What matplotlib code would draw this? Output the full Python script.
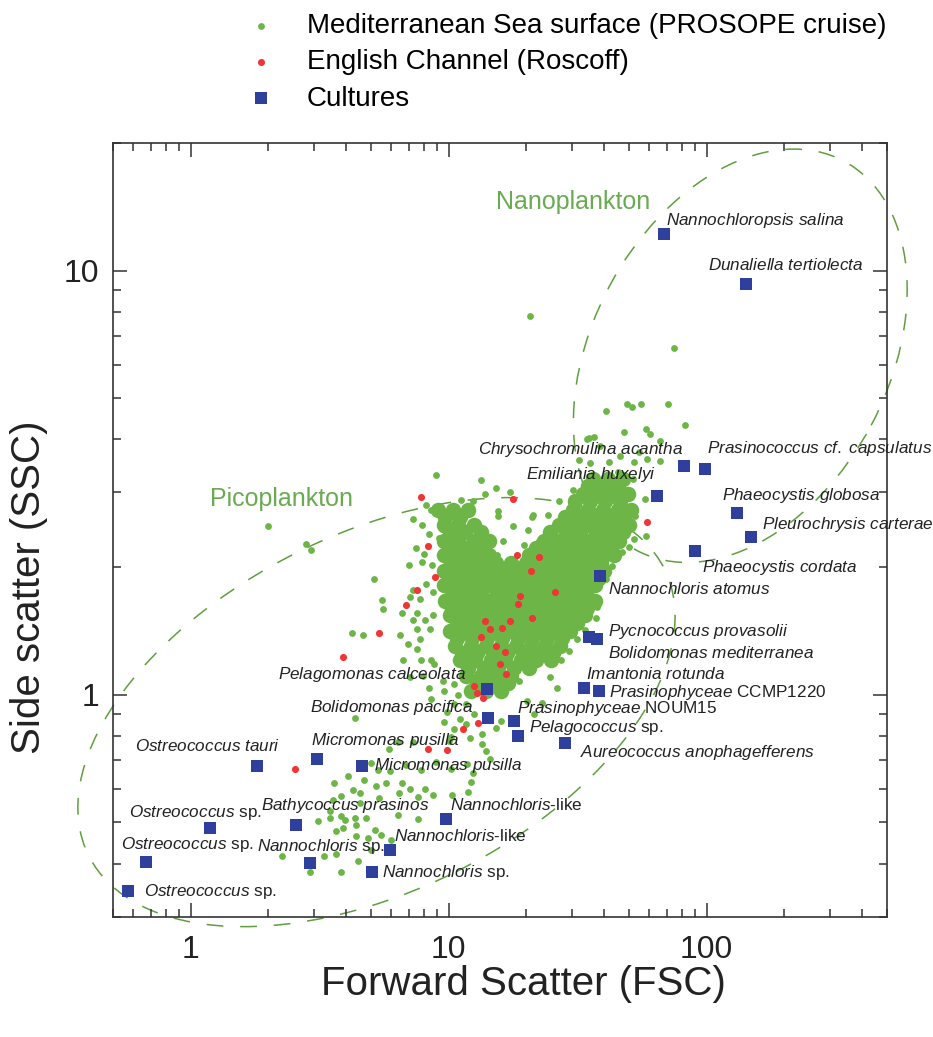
import matplotlib
matplotlib.use("Agg")
import matplotlib.pyplot as plt
from matplotlib.patches import Ellipse
from matplotlib.ticker import LogLocator, NullFormatter

plt.rcParams['font.family'] = 'Liberation Sans'
plt.rcParams['mathtext.fontset'] = 'custom'
plt.rcParams['mathtext.rm'] = 'Liberation Sans'
plt.rcParams['mathtext.it'] = 'Liberation Sans:italic'

# cultures (blue squares)
culture_names = [
    r"$\mathit{Nannochloropsis\ salina}$",
    r"$\mathit{Dunaliella\ tertiolecta}$",
    r"$\mathit{Chrysochromulina\ acantha}$",
    r"$\mathit{Prasinococcus\ cf.\ capsulatus}$",
    r"$\mathit{Emiliania\ huxelyi}$",
    r"$\mathit{Phaeocystis\ globosa}$",
    r"$\mathit{Pleurochrysis\ carterae}$",
    r"$\mathit{Phaeocystis\ cordata}$",
    r"$\mathit{Nannochloris\ atomus}$",
    r"$\mathit{Pycnococcus\ provasolii}$",
    r"$\mathit{Bolidomonas\ mediterranea}$",
    r"$\mathit{Imantonia\ rotunda}$",
    r"$\mathit{Prasinophyceae}$ CCMP1220",
    r"$\mathit{Pelagomonas\ calceolata}$",
    r"$\mathit{Bolidomonas\ pacifica}$",
    r"$\mathit{Prasinophyceae}$ NOUM15",
    r"$\mathit{Pelagococcus}$ sp.",
    r"$\mathit{Aureococcus\ anophagefferens}$",
    r"$\mathit{Ostreococcus\ tauri}$",
    r"$\mathit{Micromonas\ pusilla}$",
    r"$\mathit{Micromonas\ pusilla}$",
    r"$\mathit{Ostreococcus}$ sp.",
    r"$\mathit{Bathycoccus\ prasinos}$",
    r"$\mathit{Ostreococcus}$ sp.",
    r"$\mathit{Nannochloris}$ sp.",
    r"$\mathit{Ostreococcus}$ sp.",
    r"$\mathit{Nannochloris}$-like",
    r"$\mathit{Nannochloris}$-like",
    r"$\mathit{Nannochloris}$ sp.",
]
culture_fsc = [68.1, 142.6, 81.4, 98.2, 64.2, 131.6, 148.3, 90.1, 38.7, 35.1,
               37.7, 33.6, 38.4, 14.1, 14.2, 17.9, 18.6, 28.3, 1.80, 3.10,
               4.63, 1.19, 2.57, 0.671, 2.90, 0.57, 9.80, 5.92, 5.06]
culture_ssc = [12.2, 9.28, 3.46, 3.41, 2.95, 2.69, 2.35, 2.18, 1.91, 1.37,
               1.35, 1.04, 1.02, 1.03, 0.881, 0.868, 0.80, 0.769, 0.681, 0.707,
               0.679, 0.485, 0.493, 0.403, 0.402, 0.344, 0.510, 0.431, 0.382]

# English Channel (Roscoff)
roscoff_fsc = [7.81, 17.8, 58.5, 8.31, 18.4, 22.4, 20.9, 8.88, 7.51, 25.8, 18.9,
               6.82, 18.5, 13.8, 17.3, 21.1, 14.5, 16.1, 5.38, 13.3, 15.2, 16.6,
               3.89, 15.8, 16.7, 12.5, 12.9, 13.6, 13.0, 11.4, 8.34, 9.88, 2.53]
roscoff_ssc = [2.93, 2.90, 2.56, 2.24, 2.13, 2.11, 1.96, 1.90, 1.77, 1.75, 1.71,
               1.63, 1.64, 1.49, 1.49, 1.52, 1.43, 1.44, 1.40, 1.37, 1.30, 1.26,
               1.23, 1.18, 1.12, 1.05, 1.01, 0.98, 0.856, 0.832, 0.745, 0.742, 0.669]

# Mediterranean (PROSOPE), scattered cells
med_fsc = [20.7, 74.5, 40.9, 48.9, 51.2, 55.9, 71.1, 82.3, 47.8, 58.4, 60.3, 66.0,
           36.7, 35.0, 58.7, 34.5, 38.6, 32.1, 35.4, 52.5, 66.2, 54.8, 46.3, 42.0,
           51.7, 45.2, 40.0, 36.9, 57.8, 52.7, 26.8, 30.3, 24.3,
           13.3, 15.2, 17.3, 11.2, 12.4, 15.5, 21.0, 10.35, 13.8, 8.97, 15.6, 17.8,
           20.3, 16.3, 19.6, 22.3, 15.4, 17.5, 21.3,
           58.1, 52.2, 47.0, 49.9, 43.1, 40.9, 37.6, 37.3, 40.8, 33.8,
           8.17, 8.56, 7.28, 7.88, 9.39, 8.36, 9.14, 7.47, 8.02, 9.58, 7.04, 7.88,
           8.62, 5.15, 8.19, 7.25, 8.66, 7.06, 5.54, 5.55, 7.72, 6.62, 7.53, 8.70,
           7.28, 8.10, 7.54, 8.48, 6.50, 4.64, 6.95, 7.77, 7.56, 7.80, 8.77,
           6.67, 8.51, 7.10, 7.94, 8.41, 9.52, 10.46, 9.62, 10.83, 8.57, 10.47, 11.7,
           9.81, 12.5, 11.1, 9.58, 11.7, 10.5, 10.2, 13.5, 12.1, 15.3, 15.9, 13.5,
           10.0, 7.26, 6.34, 5.89, 4.98, 5.32, 5.92, 6.81, 7.84, 8.96, 10.2, 11.8,
           12.4, 14.0, 14.5, 3.61, 4.09, 4.68, 5.22, 5.74, 6.58, 7.09, 8.08, 6.41,
           7.60, 8.70, 10.3, 3.84, 4.53, 5.37, 12.2, 11.9, 3.48,
           20.2, 23.1, 21.5, 18.8, 24.8, 27.3, 29.2, 31.4, 26.4,
           3.12, 3.48, 3.81, 3.98, 4.35, 4.79, 4.39, 3.91, 3.65, 5.20, 5.45, 4.89,
           5.96, 7.62, 6.38, 3.66, 3.29, 2.91, 3.83, 4.47, 4.98, 2.26, 3.56, 4.24,
           4.54, 4.39, 4.22, 4.32,
           2.00, 2.81, 2.92]
med_ssc = [7.80, 6.56, 4.66, 4.84, 4.77, 4.85, 4.86, 4.32, 4.17, 4.24, 4.12, 3.97,
           4.06, 4.04, 3.60, 4.00, 3.85, 3.58, 3.52, 3.54, 3.56, 3.74, 3.65, 3.53,
           3.22, 3.35, 3.27, 3.10, 2.90, 2.64, 2.87, 3.04, 2.65,
           3.21, 3.07, 3.00, 2.88, 2.86, 2.71, 2.62, 2.46, 2.97, 3.30, 2.64, 2.50,
           2.44, 2.31, 2.25, 2.31, 2.13, 2.07, 2.65,
           2.37, 2.33, 2.17, 2.23, 2.01, 1.87, 1.61, 1.52, 1.98, 1.42,
           2.80, 2.72, 2.59, 2.52, 2.46, 2.40, 2.34, 2.22, 2.15, 2.20, 2.02, 2.06,
           2.02, 1.87, 1.82, 1.77, 1.75, 1.70, 1.67, 1.59, 1.68, 1.56, 1.56, 1.54,
           1.50, 1.50, 1.43, 1.43, 1.38, 1.38, 1.32, 1.35, 1.28, 1.21, 1.18,
           1.21, 1.21, 1.10, 1.11, 1.04, 1.08, 1.06, 1.02, 1.00, 0.977, 0.953, 0.949,
           0.912, 0.899, 0.879, 0.863, 0.851, 0.832, 0.796, 0.808, 0.789, 0.835, 0.867, 0.765,
           0.776, 0.774, 0.773, 0.744, 0.691, 0.664, 0.661, 0.682, 0.666, 0.695, 0.668, 0.688,
           0.653, 0.736, 0.705, 0.618, 0.642, 0.629, 0.610, 0.620, 0.621, 0.598, 0.598, 0.588,
           0.574, 0.580, 0.581, 0.576, 0.586, 0.572, 0.624, 0.591, 0.533,
           0.968, 0.955, 0.903, 1.08, 1.10, 1.21, 1.27, 1.35, 1.04,
           0.505, 0.512, 0.519, 0.506, 0.513, 0.513, 0.493, 0.484, 0.478, 0.480, 0.467, 0.459,
           0.455, 0.509, 0.521, 0.422, 0.417, 0.382, 0.383, 0.405, 0.430, 0.416, 0.565, 0.595,
           0.556, 0.464, 1.40, 0.881,
           2.50, 2.27, 2.19]

# Mediterranean, densely packed part of the cloud: (SSC, [FSC, ...]) per row
med_core_rows = [
    (1.02, [12.2, 14.0, 16.0]),
    (1.066, [12.9, 14.8, 17.0]),
    (1.11, [11.7, 13.3, 15.3, 17.4]),
    (1.157, [11.9, 13.7, 15.6, 17.9, 20.4]),
    (1.21, [11.1, 12.7, 14.6, 16.6, 19.0, 21.8, 24.9]),
    (1.255, [11.3, 12.9, 14.8, 16.9, 19.4, 22.2, 25.3]),
    (1.305, [10.6, 12.2, 13.9, 15.9, 18.2, 20.8, 23.7, 27.1]),
    (1.361, [10.8, 12.3, 14.1, 16.1, 18.5, 21.1, 24.1, 27.6]),
    (1.41, [10.1, 11.6, 13.3, 15.2, 17.3, 19.8, 22.7, 25.9, 29.6]),
    (1.477, [10.8, 12.3, 14.1, 16.1, 18.4, 21.1, 24.1, 27.5, 31.4]),
    (1.54, [10.1, 11.6, 13.2, 15.1, 17.3, 19.8, 22.6, 25.9, 29.6, 33.8]),
    (1.602, [10.3, 11.8, 13.5, 15.4, 17.6, 20.1, 23.0, 26.3, 30.0, 34.3]),
    (1.66, [9.7, 11.0, 12.6, 14.4, 16.5, 18.9, 21.6, 24.7, 28.2, 32.3, 36.9]),
    (1.739, [10.3, 11.8, 13.4, 15.4, 17.6, 20.1, 23.0, 26.2, 30.0, 34.2]),
    (1.81, [9.6, 11.0, 12.6, 14.4, 16.5, 18.8, 21.5, 24.6, 28.1, 32.2, 36.8]),
    (1.886, [10.25, 11.7, 13.4, 15.3, 17.5, 20.0, 22.9, 26.1, 29.9, 34.1, 38.3]),
    (1.96, [9.6, 11.0, 12.6, 14.4, 16.4, 18.8, 21.5, 24.5, 28.1, 32.1, 36.7, 40.1]),
    (2.046, [10.2, 11.7, 13.4, 15.3, 17.5, 20.0, 22.9, 26.1, 29.8, 34.0, 38.9]),
    (2.13, [9.6, 11.0, 12.5, 14.3, 20.5, 23.4, 26.8, 30.6, 35.0, 40.0, 43.8]),
    (2.22, [10.2, 11.6, 13.3, 21.8, 24.9, 28.5, 32.5, 37.2, 42.5]),
    (2.31, [9.6, 10.9, 12.5, 14.3, 23.4, 26.7, 30.6, 34.9, 39.9, 45.7]),
    (2.42, [10.1, 11.6, 13.3, 24.8, 28.4, 32.4, 37.1, 42.4, 47.6]),
    (2.51, [9.6, 10.9, 12.5, 26.7, 30.5, 34.9, 39.9, 45.6, 49.8]),
    (2.63, [9.7, 11.1, 28.2, 32.3, 37.0, 42.3, 47.9]),
    (2.73, [9.1, 10.4, 11.9, 30.4, 34.8, 39.8, 45.5, 50.7]),
    (2.86, [30.8, 35.3, 40.4, 46.2]),
    (2.97, [33.2, 37.9, 43.4, 49.6]),
    (3.10, [34.6, 39.5, 45.3]),
    (3.22, [36.2, 41.4, 47.3]),
]

# label placement: offset in points from the square, horizontal alignment
label_layout = [
    (2, 9.4, 'left'), (-28, 13.7, 'left'), (-0.7, 12.2, 'right'), (1.4, 14.4, 'left'),
    (-0.7, 15.1, 'right'), (-10.8, 12.2, 'left'), (7.9, 9.4, 'left'), (5, -11.5, 'left'),
    (5.8, -9.4, 'left'), (13.7, 3.6, 'left'), (7.9, -9.4, 'left'), (1.4, 10, 'left'),
    (7.2, -0.7, 'left'), (-15.1, 10.8, 'right'), (-10.8, 7.9, 'right'), (2.2, 8.6, 'left'),
    (7.9, 5.8, 'left'), (10.8, -6.5, 'left'), (17.3, 13.7, 'right'), (-4.3, 13, 'left'),
    (8.6, 0.7, 'left'), (-58.3, 11.5, 'left'), (-25.2, 13.7, 'left'), (-18, 13, 'left'),
    (-38.2, 11.5, 'left'), (11.5, 0, 'left'), (2.9, 10, 'left'), (2.9, 10, 'left'),
    (7.2, -0.7, 'left'),
]

GREEN = '#6cb546'
RED = '#ef3535'
BLUE = '#2e3f9c'
LINE_GREEN = '#5f9f40'

fig = plt.figure(figsize=(9.33, 10.37), dpi=100)
ax = fig.add_axes([0.1211, 0.1162, 0.8296, 0.7459])
ax.set_xscale('log')
ax.set_yscale('log')
ax.set_xlim(0.5, 500)
ax.set_ylim(0.3, 20)

core_x = [x for _, row in med_core_rows for x in row]
core_y = [y for y, row in med_core_rows for _ in row]
ax.scatter(core_x, core_y, s=125, color=GREEN, linewidths=0, zorder=2)
med = ax.scatter(med_fsc, med_ssc, s=24, color=GREEN, linewidths=0, zorder=2,
                 label='Mediterranean Sea surface (PROSOPE cruise)')
ros = ax.scatter(roscoff_fsc, roscoff_ssc, s=26, color=RED, linewidths=0, zorder=3,
                 label='English Channel (Roscoff)')
cul = ax.scatter(culture_fsc, culture_ssc, s=80, marker='s', color=BLUE, linewidths=0,
                 zorder=4, label='Cultures')

for name, x, y, (dx, dy, ha) in zip(culture_names, culture_fsc, culture_ssc, label_layout):
    ax.annotate(name, (x, y), xytext=(dx, dy), textcoords='offset points',
                ha=ha, va='center', fontsize=12.3, color='#222222', zorder=5,
                annotation_clip=False)

# size-class ellipses (centre in data, size in axes fraction)
def axes_xy(x, y):
    return ax.transAxes.inverted().transform(ax.transData.transform((x, y)))

for cx, cy, w, h, ang in [(5.25, 0.91, 0.831, 0.461, 26.5), (135, 6.3, 0.570, 0.383, 62)]:
    ax.add_patch(Ellipse(axes_xy(cx, cy), w, h, angle=ang, transform=ax.transAxes,
                         fill=False, edgecolor=LINE_GREEN, lw=1.1,
                         linestyle=(0, (11, 11)), clip_on=False, zorder=1))

ax.text(2.24, 2.89, 'Picoplankton', fontsize=18, color='#6aab52', ha='center', va='center')
ax.text(30.4, 14.5, 'Nanoplankton', fontsize=18, color='#6aab52', ha='center', va='center')

ax.set_xticks([1, 10, 100], ['1', '10', '100'])
ax.set_yticks([1, 10], ['1', '10'])
ax.xaxis.set_minor_locator(LogLocator(base=10, subs=range(2, 10)))
ax.yaxis.set_minor_locator(LogLocator(base=10, subs=range(2, 10)))
ax.xaxis.set_minor_formatter(NullFormatter())
ax.yaxis.set_minor_formatter(NullFormatter())
ax.tick_params(which='both', direction='in', top=True, right=True, color='#333333', width=1.1)
ax.tick_params(which='major', length=10, labelsize=23, labelcolor='#222222')
ax.tick_params(which='minor', length=5.5)
ax.tick_params(axis='x', which='major', pad=13)
ax.tick_params(axis='y', which='major', pad=10)
for sp in ax.spines.values():
    sp.set_linewidth(1.2)
    sp.set_color('#333333')

ax.set_xlabel('Forward Scatter (FSC)', fontsize=29, color='#222222')
ax.set_ylabel('Side scatter (SSC)', fontsize=29, color='#222222')
ax.xaxis.set_label_coords(0.53, -0.063)
ax.yaxis.set_label_coords(-0.084, 0.426)

fig.legend(handles=[med, ros, cul], loc='upper left', bbox_to_anchor=(0.262, 0.990),
           frameon=False, fontsize=20, handlelength=1.0, handletextpad=1.15,
           labelspacing=0.37, borderpad=0.1, borderaxespad=0)

fig.savefig('out.png', dpi=100)
